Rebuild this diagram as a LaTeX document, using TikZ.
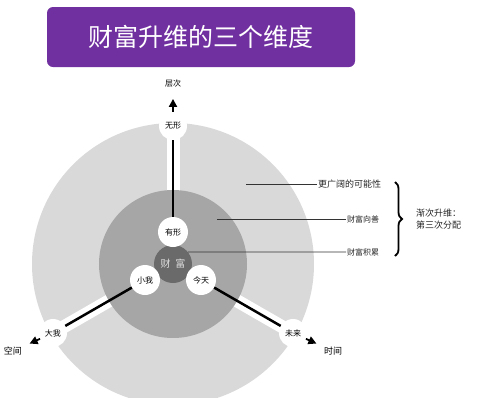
\documentclass[tikz,border=0pt]{standalone}
\usepackage{fontspec}
\setmainfont{Noto Sans CJK SC}
\usepackage{tikz}
\usetikzlibrary{arrows.meta, positioning, backgrounds, decorations.pathreplacing}
\definecolor{titlepurple}{HTML}{7030A0}
\definecolor{ringlight}{HTML}{D9D9D9}
\definecolor{ringmid}{HTML}{A6A6A6}
\definecolor{ringdark}{HTML}{6A6A6A}

\begin{document}
\begin{tikzpicture}[
    x=1pt, y=-1pt,
    font=\fontsize{8}{9}\selectfont,
    >={Triangle[length=8pt, width=8pt]},
    title/.style={fill=titlepurple, rounded corners=6pt, text=white, minimum width=308pt, minimum height=60pt, font=\fontsize{25}{28}\selectfont},
    inner/.style={circle, fill=white, minimum size=30pt, inner sep=0pt},
    outer/.style={circle, fill=white, minimum size=28pt, inner sep=0pt},
    core/.style={circle, fill=ringdark, minimum size=38pt, inner sep=0pt, text=gray!25, font=\fontsize{10}{11}\selectfont},
    axis/.style={inner sep=1pt, font=\fontsize{9}{10}\selectfont},
    note/.style={anchor=west, inner sep=1pt, text=black!85},
    spoke/.style={line width=2.5pt},
    gap/.style={white, line width=13pt},
    leader/.style={line width=0.7pt, black!80},
    dir/.style={->, line width=1.8pt},
    brace/.style={decorate, decoration={brace, amplitude=7pt}, line width=1.8pt}
]
\useasboundingbox (0,0) rectangle (483,400);

% Title
\node[title] (title) at (201,37) {财富升维的三个维度};

% Nodes
\node[core] (core) at (173,264) {财\hspace{5pt}富};
\node[inner] (youxing) at (173,232) {有形};
\node[inner] (xiaowo) at (145,280) {小我};
\node[inner] (jintian) at (201,280) {今天};
\node[outer] (wuxing) at (173,126) {无形};
\node[outer] (dawo) at (53,333) {大我};
\node[outer] (weilai) at (293,333) {未来};

% Axis labels
\node[axis, font=\fontsize{8}{9}\selectfont] (cengci) at (173,83) {层次};
\node[axis] (kongjian) at (13,351) {空间};
\node[axis] (shijian) at (333,351) {时间};

% Rings, behind everything
\begin{scope}[on background layer]
\clip (0,0) rectangle (483,397);
\fill[ringlight] (core.center) circle (141pt);
\draw[gap] (core.center) -- (wuxing.center);
\draw[gap] (core.center) -- (dawo.center);
\draw[gap] (core.center) -- (weilai.center);
\fill[ringmid] (core.center) circle (74pt);
\end{scope}

% Spokes
\draw[spoke] (youxing) -- (wuxing);
\draw[spoke] (xiaowo) -- (dawo);
\draw[spoke] (jintian) -- (weilai);

% Axis arrows
\draw[dir, shorten >=11pt] (wuxing) -- (cengci);
\draw[dir, shorten >=7pt] (dawo) -- (kongjian);
\draw[dir, shorten >=7pt] (weilai) -- (shijian);

% Notes on the right
\node[note, font=\fontsize{9}{10}\selectfont] (kenengxing) at (317,184) {更广阔的可能性};
\node[note] (xiangshan) at (346,219) {财富向善};
\node[note] (jilei) at (346,252) {财富积累};
\coordinate (outerpt) at (246,184);
\coordinate (midpt) at (217,219);
\draw[leader] (outerpt) -- (kenengxing);
\draw[leader] (midpt) -- (xiangshan);
\draw[leader] (core.39) -- (jilei);

% Brace
\draw[brace] (395,182) -- (395,256);
\node[note, align=left, font=\fontsize{9}{12}\selectfont] (jianci) at (415,219) {渐次升维：\\第三次分配};

\end{tikzpicture}
\end{document}
